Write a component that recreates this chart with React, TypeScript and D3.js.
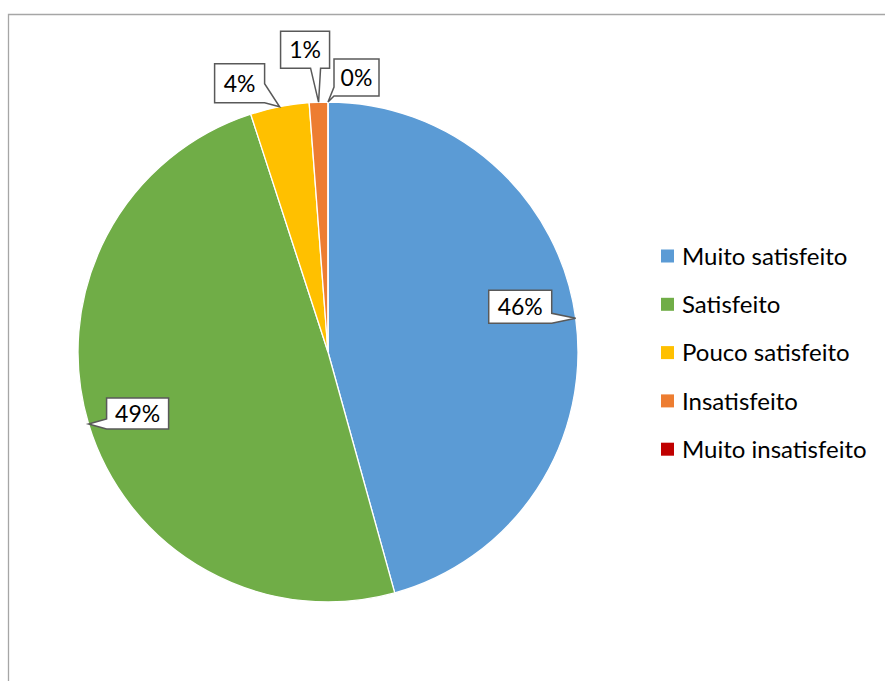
import React, { useEffect, useRef } from 'react';
import * as d3 from 'd3';

const categories = ['Muito satisfeito', 'Satisfeito', 'Pouco satisfeito', 'Insatisfeito', 'Muito insatisfeito'];
const values = [45.7, 49.3, 3.8, 1.2, 0];
const colors = ['#5B9BD5', '#70AD47', '#FFC000', '#ED7D31', '#C00000'];

// callout placement relative to the slice tip: box offset, size, wedge side and wedge base
const callouts = [
	{ dx: -87, dy: -28, w: 63, h: 33, side: 'right', a: 23, b: 33 },
	{ dx: 18, dy: -26, w: 62, h: 31, side: 'left', a: 31, b: 21 },
	{ dx: -65, dy: -43, w: 50, h: 39, side: 'right', a: 20, b: 39 },
	{ dx: -38, dy: -71, w: 49, h: 37, side: 'bottom', a: 40, b: 30 },
	{ dx: 6, dy: -43, w: 45, h: 37, side: 'left', a: 37, b: 28 },
];

const W = 885;
const H = 681;
const FONT = 'Lato, Carlito, Calibri, sans-serif';

const calloutPath = (x0: number, y0: number, w: number, h: number, side: string, a: number, b: number, tx: number, ty: number) => {
	const x1 = x0 + w;
	const y1 = y0 + h;
	const p = d3.path();
	p.moveTo(x0, y0);
	if (side === 'top') {
		p.lineTo(x0 + a, y0);
		p.lineTo(tx, ty);
		p.lineTo(x0 + b, y0);
	}
	p.lineTo(x1, y0);
	if (side === 'right') {
		p.lineTo(x1, y0 + a);
		p.lineTo(tx, ty);
		p.lineTo(x1, y0 + b);
	}
	p.lineTo(x1, y1);
	if (side === 'bottom') {
		p.lineTo(x0 + a, y1);
		p.lineTo(tx, ty);
		p.lineTo(x0 + b, y1);
	}
	p.lineTo(x0, y1);
	if (side === 'left') {
		p.lineTo(x0, y0 + a);
		p.lineTo(tx, ty);
		p.lineTo(x0, y0 + b);
	}
	p.closePath();
	return p.toString();
};

const App: React.FC = () => {
	const svgRef = useRef<SVGSVGElement | null>(null);

	useEffect(() => {
		if (!svgRef.current) return;
		const svg = d3.select(svgRef.current);
		svg.selectAll('*').remove();

		const cx = 328;
		const cy = 352;
		const radius = 250;

		// outer frame
		svg
			.append('path')
			.attr('d', `M8.5,${H} V14.5 H${W}`)
			.attr('fill', 'none')
			.attr('stroke', '#a6a6a6')
			.attr('stroke-width', 1.3);

		const data = categories.map((name, i) => ({ name, value: values[i], color: colors[i] }));
		const pie = d3
			.pie<{ name: string; value: number; color: string }>()
			.sort(null)
			.value((d) => d.value);
		const arcs = pie(data);
		const arc = d3
			.arc<d3.PieArcDatum<{ name: string; value: number; color: string }>>()
			.innerRadius(0)
			.outerRadius(radius);

		const g = svg.append('g').attr('transform', `translate(${cx},${cy})`);
		g.selectAll('path.slice')
			.data(arcs)
			.join('path')
			.attr('class', 'slice')
			.attr('d', arc)
			.attr('fill', (d) => d.data.color)
			.attr('stroke', '#fff')
			.attr('stroke-width', 1.3);

		const total = d3.sum(values);
		const labels = g.append('g');
		arcs.forEach((d, i) => {
			const mid = (d.startAngle + d.endAngle) / 2;
			const tx = Math.sin(mid) * radius;
			const ty = -Math.cos(mid) * radius;
			const c = callouts[i];
			const x0 = tx + c.dx;
			const y0 = ty + c.dy;
			labels
				.append('path')
				.attr('d', calloutPath(x0, y0, c.w, c.h, c.side, c.a, c.b, tx, ty))
				.attr('fill', '#fff')
				.attr('stroke', '#595959')
				.attr('stroke-width', 1.5);
			labels
				.append('text')
				.attr('x', x0 + c.w / 2)
				.attr('y', y0 + c.h / 2)
				.attr('dy', '0.36em')
				.attr('text-anchor', 'middle')
				.attr('font-family', FONT)
				.attr('font-size', 23)
				.attr('fill', '#000')
				.text(`${Math.round((d.data.value / total) * 100)}%`);
		});

		// legend
		const legend = svg
			.append('g')
			.selectAll('g')
			.data(data)
			.join('g')
			.attr('transform', (_d, i) => `translate(661,${256 + i * 48.3})`);
		legend
			.append('rect')
			.attr('x', 0)
			.attr('y', -6.5)
			.attr('width', 13)
			.attr('height', 13)
			.attr('fill', (d) => d.color);
		legend
			.append('text')
			.attr('x', 21)
			.attr('y', 0)
			.attr('dy', '0.36em')
			.attr('font-family', FONT)
			.attr('font-size', 24)
			.attr('fill', '#000')
			.text((d) => d.name);
	}, []);

	return (
		<svg
			ref={svgRef}
			width={W}
			height={H}
			style={{ position: 'absolute', left: 0, top: 0, background: '#fff' }}
		></svg>
	);
};

export default App;
